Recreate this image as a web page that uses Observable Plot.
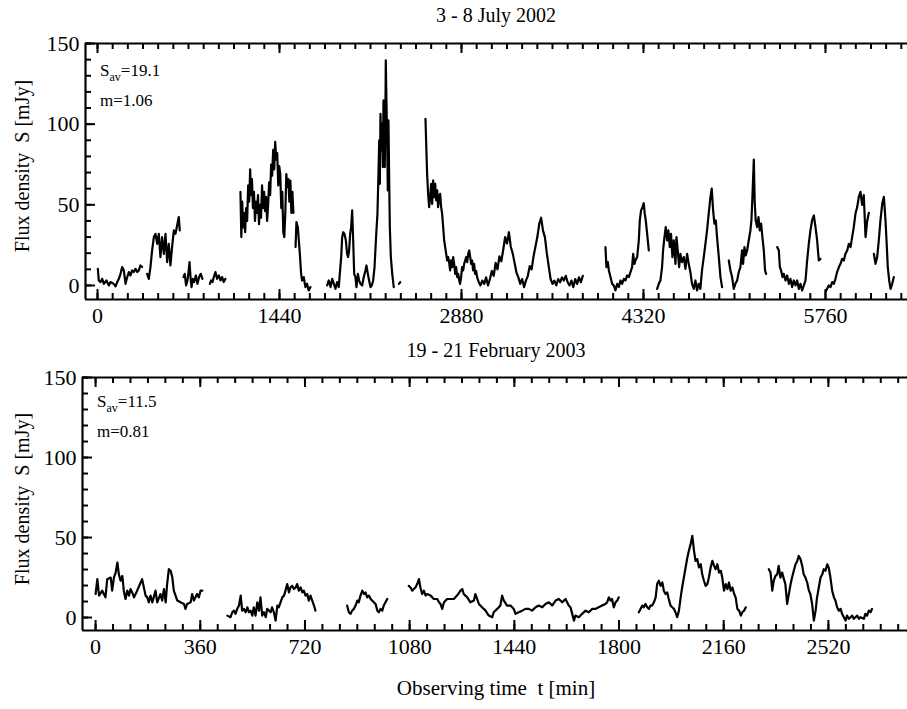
<!DOCTYPE html>
<html><head><meta charset="utf-8">
<script src="https://cdn.jsdelivr.net/npm/d3@7"></script>
<script src="https://cdn.jsdelivr.net/npm/@observablehq/plot@0.6"></script>
<style>
body{margin:0;background:#fff;}
#wrap{position:relative;width:907px;height:709px;overflow:hidden;background:#fff;font-family:"Liberation Serif","Times New Roman",serif;color:#000;}
.t{position:absolute;white-space:pre;line-height:1;}
.p{position:absolute;left:0;}
</style></head><body><div id="wrap"></div>
<script>
// ---- July 2002: [time (min), flux density (mJy)], null = gap
const julyPoints = [
[3,10.3],[10,3.1],[24,2.1],[37,4.1],[50,1.0],[71,3.1],[90,0],[103,2.1],[129,1.0],[143,-0.6],[156,2.1],[169,4.1],[182,7.2],[195,11.4],[208,9.3],[222,1.0],[235,5.2],[248,8.3],[261,6.2],[274,9.3],[287,8.3],[301,10.3],[314,8.3],[327,9.3],[340,12.4],[353,11.4],
null,
[393,7.2],[406,4.1],[419,11.4],[432,21.7],[446,30],[459,32],[472,25.8],[485,32],[498,17.6],[511,30],[525,19.6],[538,32],[551,14.5],[564,25.8],[577,12.4],[590,23.8],[604,34.1],[617,32],[630,37.2],[643,42.4],[651,34.1],
null,
[680,5.2],[690,7.2],[701,0],[712,3.1],[720,8.3],[728,14.5],[736,5.2],[744,-1],[754,4.1],[765,2.1],[778,6.2],[791,1],[804,5.2],[817,7.2],[830,4.1],
null,
[889,1],[899,3.1],[910,2.1],[920,5.2],[933,8.3],[946,4.1],[960,6.2],[973,3.1],[986,5.2],[999,2.1],[1012,4.1],
null,
[1131,58],[1138,30],[1145,52],[1152,36],[1160,45],[1168,33],[1176,48],[1184,40],[1192,62],[1200,52],[1208,72],[1214,56],[1222,66],[1230,48],[1238,58],[1246,40],[1254,52],[1262,45],[1270,56],[1278,38],[1286,50],[1294,42],[1302,62],[1310,48],[1318,58],[1326,46],[1334,55],[1342,40],[1350,50],[1358,64],[1366,56],[1374,75],[1382,68],[1390,84],[1398,72],[1406,89],[1414,78],[1422,82],[1430,62],[1438,74],[1446,69],[1454,48],[1462,58],[1470,33],[1478,30],[1486,45],[1494,69],[1502,61],[1510,66],[1518,52],[1526,65],[1534,45],[1542,58],[1550,45],
null,
[1567,23.8],[1574,39.3],[1585,36.2],[1593,27.9],[1601,19.6],[1611,7.2],[1619,3.1],[1632,5.2],[1645,-1],[1658,1],[1671,-3.1],[1685,-1],
null,
[1817,0],[1830,3.1],[1844,-1],[1857,4.1],[1870,1],[1883,-2.1],[1896,2.1],[1909,-1],[1917,7.2],[1928,17.6],[1936,30],[1944,33],[1954,32],[1965,27.9],[1975,19.6],[1983,17.6],[1991,21.7],[1999,32],[2007,36.2],[2015,46.5],[2023,27.9],[2031,7.2],[2041,5.2],[2049,-1],[2060,7.2],[2070,3.1],[2081,1],[2094,0],[2107,5.2],[2120,9.3],[2128,12.4],[2139,7.2],[2149,3.1],[2160,-1],[2170,0],[2181,3.1],[2192,11.4],[2200,23.8],[2207,34.1],[2215,44.4],[2223,69.2],[2229,89.9],[2234,63],[2239,106.4],[2247,83.7],[2252,100.2],[2258,73.4],[2263,114.7],[2268,100.2],[2273,73.4],[2279,116.8],[2281,139.5],[2287,110.6],[2292,89.9],[2297,58.9],[2302,102.3],[2308,65.1],[2313,36.2],[2321,17.6],[2332,7.2],[2344,-1],
null,
[2385,1],[2395,2],
null,
[2595,103.3],[2600,89.9],[2608,69.2],[2616,56.8],[2624,48.6],[2632,54.8],[2640,63],[2648,50.6],[2656,65.1],[2664,54.8],[2672,63],[2680,52.7],[2688,58.9],[2695,48.6],[2703,54.8],[2711,56.8],[2719,48.6],[2727,44.4],[2735,36.2],[2743,27.9],[2751,23.8],[2759,19.6],[2767,15.5],[2775,17.6],[2782,14.5],[2790,9.3],[2798,15.5],[2806,11.4],[2814,17.6],[2822,13.4],[2830,7.2],[2838,11.4],[2846,5.2],[2854,7.2],[2862,3.1],[2869,1],[2877,5.2],[2885,11.4],[2893,9.3],[2901,13.4],[2909,15.5],[2917,17.6],[2925,14.5],[2933,19.6],[2941,21.7],[2949,17.6],[2956,13.4],[2964,15.5],[2972,9.3],[2980,13.4],[2988,7.2],[2996,9],[3004,5],[3017,2],[3030,0],[3045,3],[3060,1],[3075,5],[3090,0],[3105,4],[3120,9],[3135,6],[3150,14],[3165,10],[3180,18],[3195,15],[3210,22],[3225,30],[3240,26],[3255,33],[3270,24],[3285,20],[3300,14],[3315,8],[3330,5],[3345,1],[3360,4],[3375,-1],[3390,3],[3405,6],[3420,12],[3435,10],[3450,18],[3465,24],[3480,30],[3495,38],[3510,42],[3525,34],[3540,30],[3555,20],[3570,12],[3585,4],[3600,1],[3615,3],[3630,0],[3645,4],[3660,2],[3675,5],[3690,3],[3705,6],[3720,2],[3735,0],[3750,3],[3765,-1],[3780,4],[3795,1],[3810,5],[3825,2],[3840,6],
null,
[4019,23.8],[4027,11.4],[4038,14.5],[4046,9.3],[4059,5.2],[4072,1],[4085,0],[4098,-3.1],[4112,1],[4125,-1],[4138,3.1],[4151,1],[4164,4.1],[4177,3.1],[4191,6.2],[4204,5.2],[4217,8.3],[4230,11.4],[4238,19.6],[4249,13.4],[4256,15.5],[4270,17.6],[4283,28],[4291,40.3],[4301,46.5],[4312,48.6],[4322,51],[4330,44.4],[4338,40.3],[4349,32],[4362,21.7],
null,
[4428,-2.1],[4441,1],[4454,3.1],[4467,11.4],[4475,21.7],[4486,30],[4496,36.2],[4507,28],[4517,34.1],[4528,23.8],[4538,32],[4549,17.6],[4560,28],[4573,13.4],[4581,30],[4591,21.7],[4602,11.4],[4612,19.6],[4625,14.5],[4639,17.6],[4652,10.3],[4665,19.6],[4678,13.4],[4691,8.3],[4704,1],[4718,-2.1],[4731,3.1],[4744,-3.1],[4757,1],[4770,-2.1],[4783,9.3],[4797,17.6],[4810,25.8],[4823,34.1],[4836,44.4],[4850,55],[4860,60],[4871,46.5],[4881,38.3],[4892,40.3],[4902,30],[4916,17.6],[4929,5.2],[4942,-1],
null,
[4995,15.5],[5008,9.3],[5021,5.2],[5034,-2.1],[5047,1],[5061,3.1],[5074,8.3],[5087,11.4],[5100,21.7],[5108,13.4],[5119,23.8],[5129,18.6],[5140,21.7],[5153,28],[5166,34.1],[5174,40.3],[5182,55],[5193,78],[5200,52],[5208,40.3],[5219,36.2],[5230,42.4],[5240,34.1],[5251,38.3],[5261,30],[5272,21.7],[5282,9.3],[5290,7.2],
null,
[5378,23.8],[5391,21.7],[5399,11.4],[5409,9.3],[5420,5.2],[5430,7.2],[5444,3.1],[5457,6.2],[5470,1],[5483,4.1],[5496,-1],[5509,3.1],[5523,0],[5536,3.1],[5549,-2.1],[5562,1],[5575,-3.1],[5589,0],[5602,3.1],[5615,15.5],[5628,25.8],[5641,34.1],[5654,40.3],[5668,43.4],[5681,36.2],[5694,28],[5707,15.5],[5720,16.5],
null,
[5760,-4.1],[5773,-2.1],[5786,0],[5800,-1],[5813,2.1],[5826,1],[5839,4.1],[5852,8.3],[5866,11.4],[5879,13.4],[5892,16.5],[5905,15.5],[5918,19.6],[5932,21.7],[5945,25.8],[5958,23.8],[5971,30],[5984,36.2],[5997,44.4],[6011,48.6],[6024,55],[6037,58],[6050,50],[6063,56],[6077,30],[6090,40],[6103,45],
null,
[6143,19.6],[6156,13.4],[6169,17.6],[6182,28],[6195,40.3],[6209,50.6],[6222,55],[6235,40.3],[6243,28],[6253,11.4],[6264,3.1],[6275,-2.1],[6288,1],[6301,5.2]
];

// ---- February 2003
const febPoints = [
[0,14.7],[6,24],[12,13.7],[23,16.8],[34,12.6],[40,24],[52,25],[57,16.8],[63,25],[69,28.1],[75,34.4],[80,27],[86,23],[92,26],[97,16.8],[103,11.6],[109,16.8],[115,13.7],[120,17.8],[126,15.7],[132,12.6],[143,16.8],[155,21.9],[160,24],[166,18.8],[172,13.7],[178,12.6],[183,9.5],[189,13.7],[195,9.5],[200,12.6],[206,16.8],[212,9.5],[223,14.7],[229,10.6],[235,17.8],[241,9.5],[246,20.9],[252,30.2],[258,29.2],[264,25],[269,16.8],[281,10.6],[292,9.5],[304,8.5],[309,5.4],[315,8.5],[327,9.5],[332,14.7],[338,10.6],[349,14.7],[355,12.6],[361,16.8],[367,16.8],
null,
[453,1.2],[464,0.2],[470,3.3],[476,4.3],[481,2.3],[487,5.4],[493,7.5],[499,13.7],[504,4.3],[510,5.4],[516,3.3],[522,6.4],[527,3.3],[533,4.3],[539,1.2],[544,6.4],[550,1.2],[556,9.5],[562,4.3],[567,12.6],[573,1.2],[579,3.3],[585,0.2],[590,5.4],[602,3.3],[607,6.4],[613,3.3],[619,-1.9],[625,7.5],[630,6.4],[636,9.5],[642,12.6],[648,13.7],[653,16.8],[659,20.9],[665,15.7],[670,18.8],[676,19.8],[682,17.8],[688,18.8],[693,20.9],[699,16.8],[705,18.8],[711,15.7],[716,16.8],[722,13.7],[728,14.7],[733,10.6],[739,13.7],[745,10.6],[751,7.5],[756,4.3],
null,
[865,7.5],[871,3.3],[877,2.3],[882,4.3],[888,5.4],[894,7.5],[900,10.6],[905,9.5],[911,13.7],[917,16.8],[923,14.7],[928,15.7],[934,12.6],[940,13.7],[946,11.6],[951,10.6],[957,9.5],[963,8.5],[969,4.3],[974,3.3],[980,5.4],[986,4.3],[991,7.5],[997,9.5],[1003,11.6],
null,
[1077,19.8],[1083,18.8],[1089,16.8],[1094,17.8],[1100,18.8],[1106,20.9],[1112,24],[1117,18.8],[1123,14.7],[1129,16.8],[1135,13.7],[1140,14.7],[1152,13.7],[1158,12.6],[1163,11.6],[1175,11.6],[1181,9.5],[1186,8.5],[1192,5.4],[1198,9.5],[1209,11.6],[1221,11.6],[1232,11.6],[1243,13.7],[1255,16.8],[1261,17.8],[1266,14.7],[1278,12.6],[1289,9.5],[1301,10.6],[1306,14.7],[1312,11.6],[1318,8.5],[1329,6.4],[1341,4.3],[1352,1.2],[1364,0.2],[1369,3.3],[1381,5.4],[1392,7.5],[1398,13.7],[1404,10.6],[1415,7.5],[1427,7.5],[1438,5.4],[1444,2.3],[1455,3.3],[1467,4.3],[1478,5.4],[1490,5.4],[1501,4.3],[1513,6.4],[1524,7.5],[1536,6.4],[1547,8.5],[1559,9.5],[1570,7.5],[1582,10.6],[1593,11.6],[1605,9.5],[1616,11.6],[1627,7.5],[1633,6.4],[1639,2.3],[1645,-1.9],[1650,1.2],[1662,0.2],[1673,2.3],[1685,4.3],[1696,3.3],[1708,5.4],[1719,5.4],[1730,6.4],[1742,7.5],[1753,8.5],[1759,9.5],[1765,12.6],[1771,10.6],[1776,11.6],[1782,6.4],[1788,9.5],[1794,10.6],[1799,12.6],
null,
[1868,3.3],[1874,5.4],[1880,7.5],[1885,6.4],[1891,8.5],[1897,6.4],[1903,5.4],[1908,7.5],[1914,7.5],[1920,9.5],[1926,12.6],[1931,20.9],[1937,23],[1943,19.8],[1949,21.9],[1954,16.8],[1960,14.7],[1966,15.7],[1971,11.6],[1977,7.5],[1983,6.4],[1989,5.4],[1994,3.3],[2000,0.2],[2006,4.3],[2012,12.6],[2017,18.8],[2023,25],[2029,31.3],[2035,37.5],[2040,41.6],[2046,45.7],[2052,51],[2058,41.6],[2063,35.4],[2069,36.5],[2075,31.3],[2081,33.3],[2086,27],[2092,23],[2098,19.8],[2104,20.9],[2109,25],[2115,31.3],[2121,35.4],[2127,32.3],[2132,30.2],[2138,33.3],[2144,28.1],[2150,29.2],[2155,25],[2161,16.8],[2167,20.9],[2173,17.8],[2178,21.9],[2184,16.8],[2190,18.8],[2196,14.7],[2201,12.6],[2207,5.4],[2213,4.3],[2219,1.2],[2224,3.3],[2230,4.3],[2236,6.4],
null,
[2315,30.2],[2321,28.1],[2327,16.8],[2332,23],[2338,26],[2344,27],[2349,32.3],[2355,25],[2361,28.1],[2367,24],[2372,20.9],[2378,8.5],[2384,14.7],[2390,20.9],[2395,25],[2401,29.2],[2407,33.3],[2413,35.4],[2418,38.5],[2424,36.5],[2430,32.3],[2435,27],[2441,25],[2447,21.9],[2453,16.8],[2458,14.7],[2464,8.5],[2470,-1.9],[2476,4.3],[2481,12.6],[2487,18.8],[2493,25],[2499,27],[2504,30.2],[2510,29.2],[2516,33.3],[2521,31.3],[2527,25],[2533,16.8],[2539,12.6],[2544,10.6],[2550,6.4],[2556,4.3],[2562,5.4],[2567,2.3],[2573,0.2],[2579,-1.9],[2584,1.2],[2590,-0.8],[2596,0.2],[2602,1.2],[2607,-0.8],[2613,0.2],[2619,1.2],[2625,-0.8],[2630,0.2],[2642,-0.8],[2647,2.3],[2653,1.2],[2659,4.3],[2665,3.3],[2670,5.4]
];

const julyXLabels = [0, 1440, 2880, 4320, 5760];
const febXLabels = [0, 360, 720, 1080, 1440, 1800, 2160, 2520];
const yLabels = [0, 50, 100, 150];
const julyXDomain = [-95, 6409];
const febXDomain = [-45, 2792];
const julyYDomain = [-8.7, 150];
const febYDomain = [-8.1, 150];
const julyMinorStep = 120, febMinorStep = 60, yMinorStep = 10;

const FONT = '"Liberation Serif","Times New Roman",serif';

function panel(points, xDomain, yDomain, xLabels, minorStep, h, mt, mb, ml) {
  const W = 907, innerH = h - mt - mb, innerW = W - ml;
  // tick lengths: pixels converted to data units of each scale
  const kY = (yDomain[1] - yDomain[0]) / innerH;
  const kX = (xDomain[1] - xDomain[0]) / innerW;
  const xMinor = d3.range(0, xDomain[1], minorStep);
  const yMinor = d3.range(0, 151, yMinorStep);
  const pts = points.map(d => d ? {t: d[0], s: d[1]} : {t: NaN, s: NaN});
  const sw = 2;
  const tickMarks = [];
  for (const [vals, len] of [[xMinor, 6], [xLabels, 10]]) {
    tickMarks.push(Plot.ruleX(vals, {y1: yDomain[0], y2: yDomain[0] + len * kY, stroke: "#000", strokeWidth: sw}));
    tickMarks.push(Plot.ruleX(vals, {y1: yDomain[1] - len * kY, y2: yDomain[1], stroke: "#000", strokeWidth: sw}));
  }
  for (const [vals, len] of [[yMinor, 6], [yLabels, 10]]) {
    tickMarks.push(Plot.ruleY(vals, {x1: xDomain[0], x2: xDomain[0] + len * kX, stroke: "#000", strokeWidth: sw}));
  }
  return Plot.plot({
    width: W, height: h,
    marginTop: mt, marginBottom: mb, marginLeft: ml, marginRight: 0,
    x: {domain: xDomain, label: null},
    y: {domain: yDomain, label: null},
    style: {fontFamily: FONT, fontSize: "22px", color: "#000", background: "transparent"},
    marks: [
      Plot.line(pts, {x: "t", y: "s", stroke: "#000", strokeWidth: 2.2, strokeLinejoin: "round"}),
      ...tickMarks,
      Plot.axisX(xLabels, {anchor: "bottom", tickSize: 0, tickPadding: 8, label: null, tickFormat: d => String(d)}),
      Plot.axisY(yLabels, {anchor: "left", tickSize: 0, tickPadding: 6, label: null, tickFormat: d => String(d)}),
      Plot.ruleX([xDomain[0]], {stroke: "#000", strokeWidth: 2.2}),
      Plot.ruleY([yDomain[0]], {stroke: "#000", strokeWidth: 2.2}),
      Plot.ruleY([yDomain[1]], {stroke: "#000", strokeWidth: 2.2})
    ]
  });
}

const wrap = document.getElementById("wrap");
const p1 = panel(julyPoints, julyXDomain, julyYDomain, julyXLabels, julyMinorStep, 330, 43, 31, 85);
p1.classList.add("p"); p1.style.top = "0px";
wrap.appendChild(p1);
const p2 = panel(febPoints, febXDomain, febYDomain, febXLabels, febMinorStep, 340, 47, 40, 82);
p2.classList.add("p"); p2.style.top = "330px";
wrap.appendChild(p2);

function addText(html, css) {
  const d = document.createElement("div");
  d.className = "t";
  d.innerHTML = html;
  Object.assign(d.style, css);
  wrap.appendChild(d);
  return d;
}
addText("3 - 8 July 2002", {left: "496px", top: "5px", fontSize: "20px", transform: "translateX(-50%)"});
addText("19 - 21 February 2003", {left: "496px", top: "340px", fontSize: "20px", transform: "translateX(-50%)"});
addText("Observing time  t [min]", {left: "496px", top: "678px", fontSize: "21px", transform: "translateX(-50%)"});
addText("Flux density  S [mJy]", {left: "22px", top: "166px", fontSize: "20px", transform: "translate(-50%,-50%) rotate(-90deg)"});
addText("Flux density  S [mJy]", {left: "22px", top: "499px", fontSize: "20px", transform: "translate(-50%,-50%) rotate(-90deg)"});
const sub = 'font-size:12px;position:relative;top:5px;';
addText('S<span style="' + sub + '">av</span>=19.1', {left: "100px", top: "62px", fontSize: "17px"});
addText('m=1.06', {left: "100px", top: "92px", fontSize: "17px"});
addText('S<span style="' + sub + '">av</span>=11.5', {left: "97px", top: "393px", fontSize: "17px"});
addText('m=0.81', {left: "97px", top: "423px", fontSize: "17px"});
</script>
</body></html>
